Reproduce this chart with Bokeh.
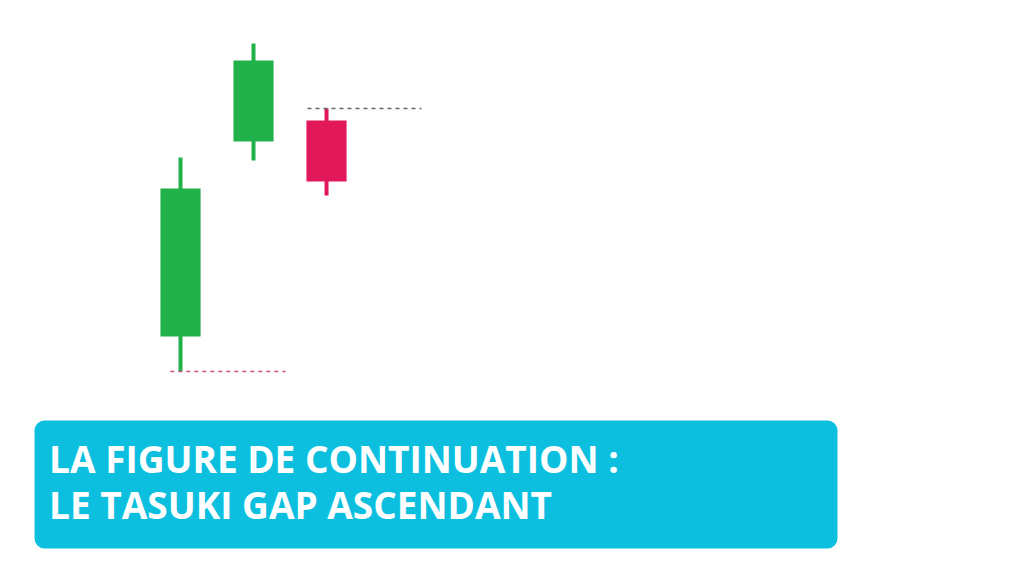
from bokeh.plotting import figure
from bokeh.models import Range1d, Label, BoxAnnotation
from bokeh.embed import file_html
from bokeh.resources import INLINE

# Candle data (arbitrary price units)
idx = [1, 2, 3]
opens = [13.5, 33.0, 35.1]
closes = [28.3, 41.1, 29.0]
highs = [31.4, 42.8, 36.3]
lows = [10.0, 31.1, 27.6]
title_lines = ["LA FIGURE DE CONTINUATION :", "LE TASUKI GAP ASCENDANT"]

GREEN = "#20B14B"
RED = "#E1195A"
BOX = "#0DBFDF"

colors = [GREEN if c >= o else RED for o, c in zip(opens, closes)]
body_top = [max(o, c) for o, c in zip(opens, closes)]
body_bot = [min(o, c) for o, c in zip(opens, closes)]

p = figure(width=1016, height=568, output_backend="svg", toolbar_location=None,
           x_range=Range1d(-1.466, 12.452), y_range=Range1d(-9.7, 47.1),
           min_border=0, outline_line_color=None)
p.axis.visible = False
p.grid.visible = False
p.background_fill_color = "white"
p.border_fill_color = "white"

# wicks
p.segment(x0=idx, y0=lows, x1=idx, y1=highs, line_color=colors, line_width=4)
# bodies
p.vbar(x=idx, bottom=body_bot, top=body_top, width=0.55, fill_color=colors,
       line_color=None)

# dashed reference lines
p.segment(x0=[2.74], y0=[highs[2]], x1=[4.30], y1=[highs[2]],
          line_color="#666666", line_width=1.5, line_dash="4 4")
p.segment(x0=[0.86], y0=[lows[0]], x1=[2.44], y1=[lows[0]],
          line_color="#CC5A7C", line_width=1.5, line_dash="4 4")

# caption box
box = BoxAnnotation(left=-1.0, right=10.0, bottom=-7.7, top=5.1,
                    fill_color=BOX, fill_alpha=1.0, line_color=None,
                    border_radius=10)
p.add_layout(box)

p.add_layout(Label(x=-0.80, y=1.35, text=title_lines[0], text_color="white",
                   text_font="Open Sans", text_font_style="bold",
                   text_font_size="37px", text_baseline="alphabetic"))
p.add_layout(Label(x=-0.80, y=-3.25, text=title_lines[1], text_color="white",
                   text_font="Open Sans", text_font_style="bold",
                   text_font_size="37px", text_baseline="alphabetic"))

open("out.html", "w").write(file_html(p, INLINE))
